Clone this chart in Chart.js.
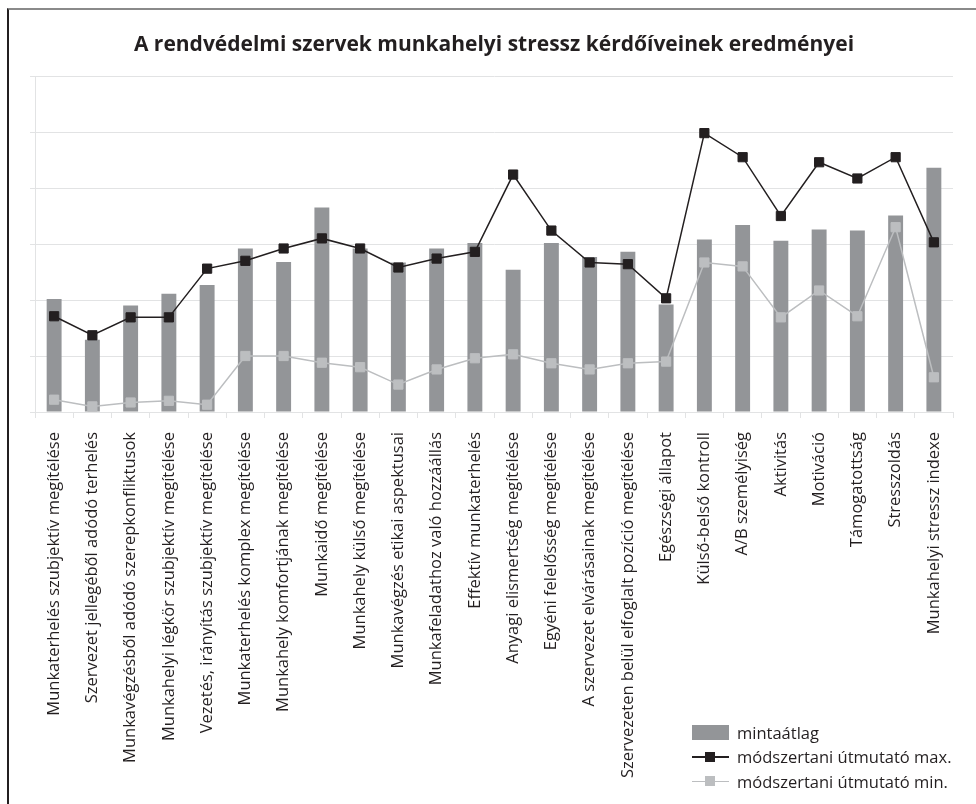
<!DOCTYPE html>
<html lang="hu">
	<head>
		<meta charset="utf-8" />
		<title>Munkahelyi stressz</title>
		<script src="https://cdn.jsdelivr.net/npm/chart.js@4"></script>
		<style>
			body { margin: 0; background: #fff; overflow: hidden; }
			#wrap { position: relative; width: 976px; height: 804px; }
			#frame {
				position: absolute; left: 7px; top: 8px; width: 990px; height: 820px;
				border-left: 2px solid #231f20; border-top: 2px solid #8a8a8a;
				pointer-events: none;
			}
			#legend {
				position: absolute; left: 692px; top: 720px;
				font-family: "Open Sans", sans-serif; font-size: 16.5px; color: #231f20;
			}
			.item { display: flex; align-items: center; height: 24.5px; }
			.key { position: relative; width: 37px; height: 15px; margin-right: 8px; }
			.bar { background: #939598; }
			.key .ln { position: absolute; left: 0; right: 0; top: 7px; height: 1.5px; }
			.key .pt { position: absolute; left: 13px; top: 2.5px; width: 10px; height: 10px; }
		</style>
	</head>
	<body>
		<div id="wrap">
			<canvas id="chart"></canvas>
			<div id="frame"></div>
			<div id="legend">
				<div class="item"><div class="key bar"></div>mintaátlag</div>
				<div class="item"><div class="key"><div class="ln" style="background:#231f20"></div><div class="pt" style="background:#231f20"></div></div>módszertani útmutató max.</div>
				<div class="item"><div class="key"><div class="ln" style="background:#bcbec0"></div><div class="pt" style="background:#bcbec0"></div></div>módszertani útmutató min.</div>
			</div>
		</div>

		<script>
			const categories = [
				"Munkaterhelés szubjektív megítélése",
				"Szervezet jellegéből adódó terhelés",
				"Munkavégzésből adódó szerepkonfliktusok",
				"Munkahelyi légkör szubjektív megítélése",
				"Vezetés, irányítás szubjektív megítélése",
				"Munkaterhelés komplex megítélése",
				"Munkahely komfortjának megítélése",
				"Munkaidő megítélése",
				"Munkahely külső megítélése",
				"Munkavégzés etikai aspektusai",
				"Munkafeladathoz való hozzáállás",
				"Effektív munkaterhelés",
				"Anyagi elismertség megítélése",
				"Egyéni felelősség megítélése",
				"A szervezet elvárásainak megítélése",
				"Szervezeten belül elfoglalt pozíció megítélése",
				"Egészségi állapot",
				"Külső-belső kontroll",
				"A/B személyiség",
				"Aktivitás",
				"Motiváció",
				"Támogatottság",
				"Stresszoldás",
				"Munkahelyi stressz indexe",
			];
			// sample mean (bars)
			const mintaatlag = [
				2.02, 1.29, 1.9, 2.11, 2.27, 2.92, 2.68, 3.65, 2.92, 2.67, 2.92, 3.02,
				2.54, 3.02, 2.77, 2.86, 1.92, 3.08, 3.34, 3.06, 3.26, 3.24, 3.51, 4.36,
			];
			const utmutatoMax = [
				1.71, 1.37, 1.69, 1.69, 2.56, 2.7, 2.92, 3.1, 2.92, 2.58, 2.74, 2.86,
				4.24, 3.24, 2.67, 2.64, 2.03, 4.98, 4.55, 3.5, 4.46, 4.17, 4.55, 3.03,
			];
			const utmutatoMin = [
				0.22, 0.1, 0.17, 0.2, 0.13, 1.0, 1.0, 0.88, 0.8, 0.49, 0.76, 0.96,
				1.03, 0.87, 0.76, 0.87, 0.9, 2.67, 2.6, 1.69, 2.17, 1.71, 3.3, 0.62,
			];

			const gridColor = "#e2e3e4";

			new Chart(document.getElementById("chart"), {
				data: {
					labels: categories,
					datasets: [
						{
							type: "line",
							label: "módszertani útmutató max.",
							data: utmutatoMax,
							borderColor: "#231f20",
							borderWidth: 1.5,
							pointStyle: "rect",
							pointRadius: 6.5,
							pointBorderWidth: 1,
							pointBackgroundColor: "#231f20",
							pointBorderColor: "#231f20",
							order: 1,
						},
						{
							type: "line",
							label: "módszertani útmutató min.",
							data: utmutatoMin,
							borderColor: "#bcbec0",
							borderWidth: 1.5,
							pointStyle: "rect",
							pointRadius: 6.5,
							pointBorderWidth: 1,
							pointBackgroundColor: "#bcbec0",
							pointBorderColor: "#bcbec0",
							order: 2,
						},
						{
							type: "bar",
							label: "mintaátlag",
							data: mintaatlag,
							backgroundColor: "#939598",
							categoryPercentage: 1,
							barPercentage: 0.39,
							order: 3,
						},
					],
				},
				options: {
					responsive: true,
					maintainAspectRatio: false,
					animation: false,
					layout: { padding: { left: 0, right: 23, top: 0, bottom: 10 } },
					plugins: {
						legend: { display: false },
						tooltip: { enabled: false },
						title: {
							display: true,
							fullSize: false,
							text: "A rendvédelmi szervek munkahelyi stressz kérdőíveinek eredményei",
							color: "#231f20",
							font: { family: "Open Sans", size: 21, weight: "bold", lineHeight: 1.2 },
							padding: { top: 32.4, bottom: 18.4 },
						},
					},
					scales: {
						x: {
							offset: true,
							grid: {
								offset: true,
								drawOnChartArea: false,
								tickLength: 6,
								color: gridColor,
							},
							border: { color: gridColor },
							ticks: {
								minRotation: 90,
								maxRotation: 90,
								autoSkip: false,
								padding: 14,
								color: "#231f20",
								font: { family: "Open Sans", size: 16.5 },
							},
							afterFit: (scale) => {
								scale.height = 382;
							},
						},
						y: {
							min: 0,
							max: 6,
							ticks: { stepSize: 1, display: false },
							grid: { color: gridColor, tickLength: 5 },
							border: { color: gridColor },
							afterFit: (scale) => {
								scale.width = 35;
							},
						},
					},
				},
			});
		</script>
	</body>
</html>
